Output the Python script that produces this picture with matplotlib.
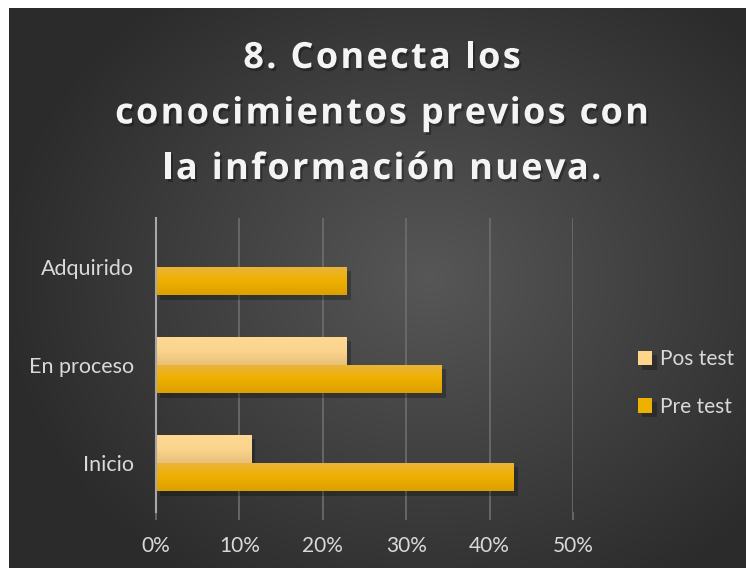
import numpy as np
import matplotlib.pyplot as plt
import matplotlib.patheffects as pe
from matplotlib.colors import LinearSegmentedColormap
from matplotlib.font_manager import FontProperties
from matplotlib.textpath import TextToPath

categories = ["Inicio", "En proceso", "Adquirido"]
pre_test = [42.86, 34.29, 22.86]
pos_test = [11.43, 22.86, 0.0]
xticks = [0, 10, 20, 30, 40, 50]
title_lines = ["8. Conecta los", "conocimientos previos con", "la información nueva."]

plt.rcParams["font.family"] = ["Lato", "DejaVu Sans"]

W, H = 746, 568
fig = plt.figure(figsize=(W / 100, H / 100), dpi=100)
fig.patch.set_facecolor("white")

# radial gradient background of the chart area
bg = fig.add_axes([9 / W, 0, 737 / W, 560 / H], zorder=-10)
yy, xx = np.mgrid[0:560, 0:737]
r = np.sqrt(((xx - 420) / 430) ** 2 + ((yy - 270) / 360) ** 2)
shade = np.clip(0.34 - 0.17 * r, 0.17, 0.34)
bg.imshow(np.dstack([shade] * 3), aspect="auto", interpolation="bilinear")
bg.axis("off")

ax = fig.add_axes([156 / W, 1 - 512 / H, 417 / W, 294 / H])
ax.set_facecolor("none")

h = 0.29
y = np.arange(len(categories))
pre_cmap = LinearSegmentedColormap.from_list("pre", ["#dca000", "#efb000", "#e9b43c"])
pos_cmap = LinearSegmentedColormap.from_list("pos", ["#e8c078", "#fbd48e", "#ffd994"])


def draw_bars(vals, offset, cmap, color, label):
    bars = ax.barh(y + offset, vals, height=h, color=color, label=label, zorder=3,
                   path_effects=[pe.SimplePatchShadow(offset=(3, -3), shadow_rgbFace="black", alpha=0.25),
                                 pe.Normal()])
    grad = np.linspace(0, 1, 50).reshape(-1, 1)
    for b in bars:
        if b.get_width() <= 0:
            continue
        x0, y0 = b.get_x(), b.get_y()
        im = ax.imshow(grad, extent=[x0, x0 + b.get_width(), y0, y0 + b.get_height()],
                       aspect="auto", cmap=cmap, origin="lower", zorder=4)
        im.set_clip_path(b)
    return bars


draw_bars(pre_test, -h / 2, pre_cmap, "#edb100", "Pre test")
draw_bars(pos_test, h / 2, pos_cmap, "#fdd68c", "Pos test")

ax.set_xlim(0, 50)
ax.set_ylim(-0.5, 2.5)
ax.set_xticks(xticks)
ax.set_xticklabels([f"{t}%" for t in xticks])
ax.set_yticks(y)
ax.set_yticklabels(categories)
ax.grid(axis="x", color="#6e6e6e", linewidth=1.2, zorder=0)
for s in ["top", "right", "bottom"]:
    ax.spines[s].set_visible(False)
ax.spines["left"].set_color("#a8a8a8")
ax.spines["left"].set_linewidth(1.5)
ax.spines["left"].set_zorder(5)
ax.tick_params(axis="x", colors="#6e6e6e", length=6, width=1.2, labelcolor="#d9d9d9",
               labelsize=15, pad=11)
ax.tick_params(axis="y", length=0, labelcolor="#d9d9d9", labelsize=15.5, pad=16)

handles, labels = ax.get_legend_handles_labels()
leg = fig.legend(handles[::-1], labels[::-1], loc="center left", bbox_to_anchor=(619 / W, 1 - 383 / H),
                 frameon=False, fontsize=15, labelcolor="#d9d9d9", handlelength=0.7, handleheight=0.7,
                 handletextpad=0.35, labelspacing=1.3)

# title with letter spacing, drawn character by character
tfont = FontProperties(family="Open Sans", weight="bold", size=26)
t2p = TextToPath()
spacing = 2.3  # extra px between letters


def text_px(s):
    if not s:
        return 0.0
    w, _, _ = t2p.get_text_width_height_descent(s, tfont, ismath=False)
    return w * 100 / 72


shadow = [pe.withSimplePatchShadow(offset=(1.5, -2), shadow_rgbFace="black", alpha=0.3)]
for i, line in enumerate(title_lines):
    baseline = 68 + i * 55.5
    total = text_px(line) + spacing * (len(line) - 1)
    x_start = 382 - total / 2
    for k, ch in enumerate(line):
        if ch == " ":
            continue
        xpx = x_start + text_px(line[:k]) + spacing * k
        fig.text(xpx / W, 1 - baseline / H, ch, fontproperties=tfont, color="#f4f4f4",
                 ha="left", va="baseline", path_effects=shadow)

fig.savefig("out.png", dpi=100, facecolor=fig.get_facecolor())
